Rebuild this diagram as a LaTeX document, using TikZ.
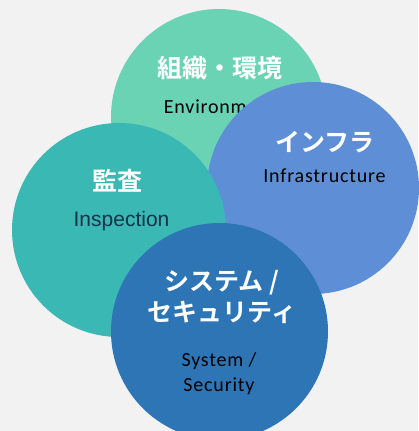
\documentclass[tikz,border=0pt]{standalone}
\usepackage{fontspec}
\setmainfont{Carlito}
\newfontfamily\jpfont{Noto Sans CJK JP}[BoldFont={Noto Sans CJK JP Bold}]
\newfontfamily\arialfont{Liberation Sans}
\newfontfamily\calfont{Carlito}[LetterSpace=4]
\usepackage{tikz}
\definecolor{bgcol}{HTML}{F2F2F2}
\definecolor{envcol}{HTML}{6AD3B4}
\definecolor{infcol}{HTML}{5E8ED6}
\definecolor{inscol}{HTML}{3AB8B3}
\definecolor{syscol}{HTML}{2E75B6}
\definecolor{navytext}{HTML}{14324A}

\begin{document}
\begin{tikzpicture}[x=1pt,y=-1pt,
  disc/.style={circle, inner sep=0pt, draw=none},
  jp/.style={inner sep=0pt, text=white, align=center, font=\jpfont\bfseries\fontsize{25}{31}\selectfont},
  en/.style={inner sep=0pt, text=black, align=center, font=\calfont\fontsize{20}{25}\selectfont}]
\useasboundingbox (0,0) rectangle (418,431);
\fill[bgcol] (0,0) rectangle (418,431);

% environment
\node[disc, fill=envcol, minimum size=216pt] (env) at (219,117) {};
\node[jp] (envjp) at (220,68.5) {組織・環境};
\node[en, anchor=base] (enven) at (220,113) {Environment};

% infrastructure
\node[disc, fill=infcol, minimum size=212pt] (inf) at (313,188) {};
\node[jp] (infjp) at (325,142.5) {インフラ};
\node[en, anchor=base] (infen) at (324.5,182) {Infrastructure};

% inspection
\node[disc, fill=inscol, minimum size=214pt] (ins) at (119,230) {};
\node[jp] (insjp) at (117.5,181) {監査};
\node[inner sep=0pt, text=navytext, anchor=base, font=\arialfont\fontsize{21}{25}\selectfont] (insen) at (121.5,226) {Inspection};

% system / security
\node[disc, fill=syscol, minimum size=217pt] (sys) at (219.5,331.5) {};
\node[jp] (sysjp) at (222,297.5) {システム /\\セキュリティ};
\node[en] (sysen) at (219,374) {System /\\Security};
\end{tikzpicture}
\end{document}
